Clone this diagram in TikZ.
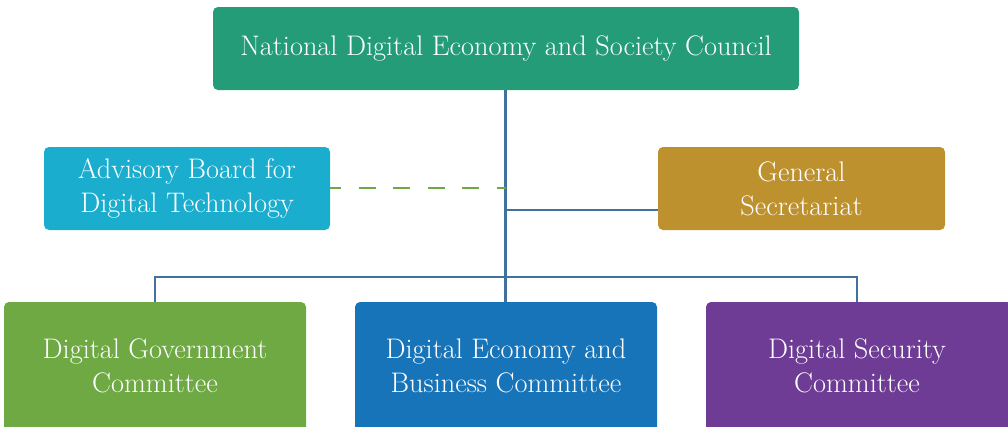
\documentclass[tikz,border=0pt]{standalone}
\definecolor{cTop}{HTML}{239C77}
\definecolor{cAdv}{HTML}{1AADCE}
\definecolor{cSec}{HTML}{BD912E}
\definecolor{cGov}{HTML}{6EA944}
\definecolor{cEco}{HTML}{1874B8}
\definecolor{cSecu}{HTML}{6E3C95}
\definecolor{cLine}{HTML}{41719C}
\begin{document}
\begin{tikzpicture}[x=1pt,y=-1pt,
  orgbox/.style={rounded corners=5pt, inner sep=0pt, text=white, align=center,
    font=\fontsize{28.3}{34}\selectfont},
  conn/.style={draw=cLine, line width=2.8pt},
  dconn/.style={draw=cGov, line width=2.8pt, dash pattern=on 17pt off 17.5pt, dash phase=6pt}]
\useasboundingbox (0,0) rectangle (1008,426);
\begin{scope}
\clip (0,0) rectangle (1008,426);
\filldraw[fill=cTop, draw=none, rounded corners=5pt] (213,7) rectangle (799,90);
\node (top) at (506,48.5) [orgbox, minimum width=586pt, minimum height=83pt] {National Digital Economy and Society Council};
\filldraw[fill=cAdv, draw=none, rounded corners=5pt] (44,147) rectangle (330,230);
\node (adv) at (187,188.5) [orgbox, minimum width=286pt, minimum height=83pt] {Advisory Board for\\Digital Technology};
\filldraw[fill=cSec, draw=none, rounded corners=5pt] (658,147) rectangle (945,230);
\node (sec) at (801.5,188.5) [orgbox, minimum width=287pt, minimum height=83pt] {General\\Secretariat};
\filldraw[fill=cGov, draw=none, rounded corners=5pt] (4,302) rectangle (306,450);
\node (gov) at (155,366) [orgbox] {Digital Government\\Committee};
\filldraw[fill=cEco, draw=none, rounded corners=5pt] (355,302) rectangle (657,450);
\node (eco) at (506,366) [orgbox] {Digital Economy and\\Business Committee};
\filldraw[fill=cSecu, draw=none, rounded corners=5pt] (706,302) rectangle (1012,450);
\node (secu) at (857,366) [orgbox] {Digital Security\\Committee};
\end{scope}
\coordinate (ecotop) at (505.5,302);
\coordinate (toptop) at (505.5,90);
\coordinate (jdash) at (505.5,188);
\coordinate (jsec) at (505.5,210);
\coordinate (jbar) at (505.5,277);
\coordinate (govtop) at (155,302);
\coordinate (secutop) at (857,302);
\draw[conn] (toptop) -- (ecotop);
\draw[conn] (jsec) -- (658,210);
\draw[conn] (govtop) |- (jbar) -| (secutop);
\draw[dconn] (330,188) -- (jdash);
\end{tikzpicture}
\end{document}
